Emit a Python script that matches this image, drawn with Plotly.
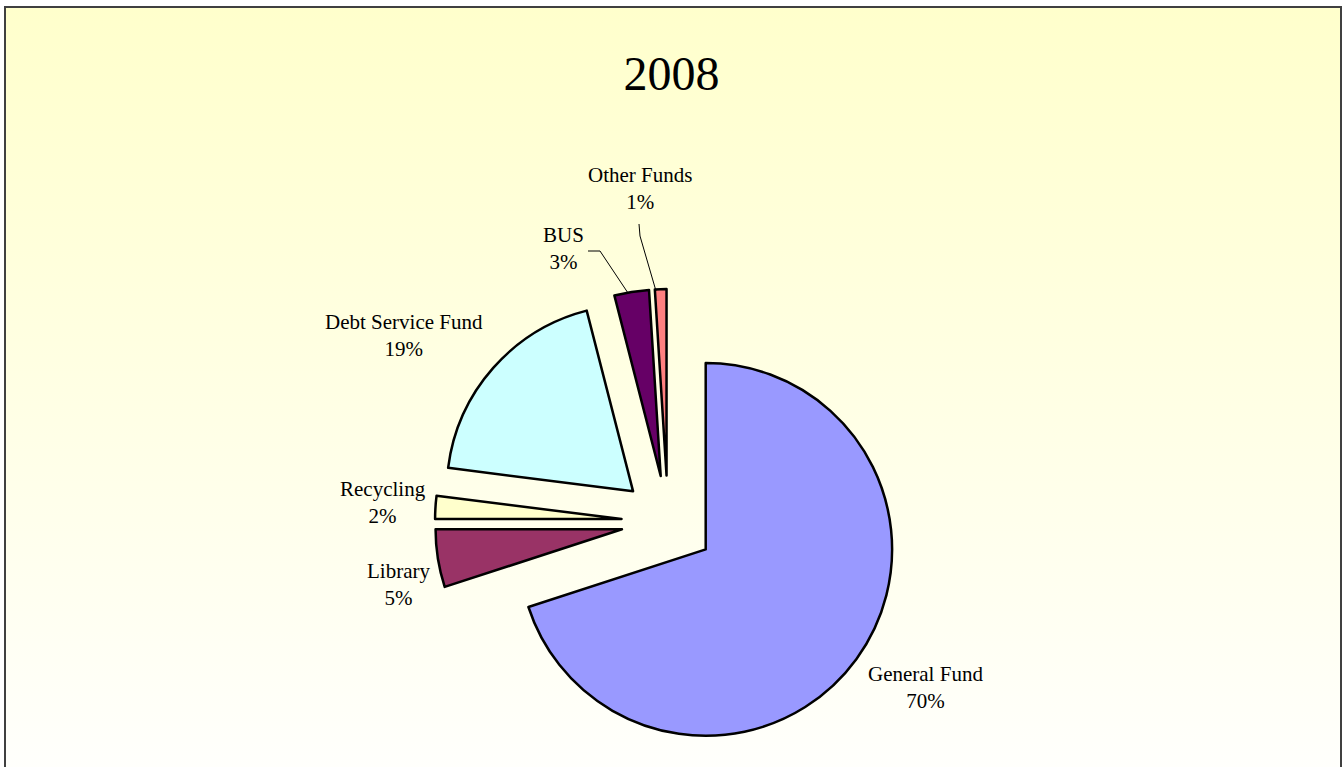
import base64
import plotly.graph_objects as go

# ---- data ----
funds = ["General Fund", "Library", "Recycling", "Debt Service Fund", "BUS", "Other Funds"]
shares = [70, 5, 2, 19, 3, 1]
colors = ["#9999FF", "#993366", "#FFFFCC", "#CCFFFF", "#660066", "#FF8080"]
title_text = "2008"

# ---- layout constants ----
W, H = 1343, 767
FONT = "Liberation Serif"


def px(x):
    return x / W


def py(y):
    return 1 - y / H


# label centres (pixels) for each fund, same order as funds
label_pos = [(925, 687), (398, 584), (383, 502), (404, 335), (563, 249), (640, 189)]

total = sum(shares)

fig = go.Figure()
fig.add_trace(go.Pie(
    labels=funds,
    values=shares,
    sort=False,
    direction="clockwise",
    rotation=0,
    pull=[0.25] * len(funds),
    marker=dict(colors=colors, line=dict(color="black", width=2.5)),
    textinfo="none",
    hoverinfo="label+percent",
    showlegend=False,
    domain=dict(x=[px(435), px(901)], y=[py(755), py(289)]),
))

annotations = []
for name, v, (lx, ly) in zip(funds, shares, label_pos):
    annotations.append(dict(
        x=px(lx), y=py(ly), xref="paper", yref="paper",
        text=f"{name}<br>{round(100 * v / total)}%",
        showarrow=False, xanchor="center", yanchor="middle",
        font=dict(family=FONT, size=21, color="black"),
    ))

# background gradient
svg = (
    "<svg xmlns='http://www.w3.org/2000/svg' width='10' height='100' viewBox='0 0 10 100' "
    "preserveAspectRatio='none'><defs><linearGradient id='g' x1='0' y1='0' x2='0' y2='1'>"
    "<stop offset='0' stop-color='#FFFFCC'/><stop offset='1' stop-color='#FFFFFF'/>"
    "</linearGradient></defs><rect width='10' height='100' fill='url(#g)'/></svg>"
)
src = "data:image/svg+xml;base64," + base64.b64encode(svg.encode()).decode()

shapes = [
    dict(type="rect", xref="paper", yref="paper",
         x0=px(5), x1=px(1341), y0=py(7), y1=py(820),
         line=dict(color="#404040", width=2), layer="above"),
    # leader lines
    dict(type="path", xref="paper", yref="paper",
         path=f"M {px(588)} {py(251)} L {px(600)} {py(251)} L {px(628)} {py(293)}",
         line=dict(color="black", width=1)),
    dict(type="path", xref="paper", yref="paper",
         path=f"M {px(639)} {py(224)} L {px(640)} {py(236)} L {px(656)} {py(291)}",
         line=dict(color="black", width=1)),
]

fig.update_layout(
    width=W, height=H,
    margin=dict(l=0, r=0, t=0, b=0),
    paper_bgcolor="white",
    plot_bgcolor="white",
    title=dict(text=title_text, x=0.5, xanchor="center", y=py(73), yanchor="middle",
               yref="container", font=dict(family=FONT, size=48, color="black")),
    annotations=annotations,
    shapes=shapes,
    images=[dict(source=src, xref="paper", yref="paper", x=px(6), y=py(8),
                 sizex=(1340 - 6) / W, sizey=(820 - 8) / H,
                 xanchor="left", yanchor="top", sizing="stretch", layer="below")],
)

fig.write_html("out.html")
